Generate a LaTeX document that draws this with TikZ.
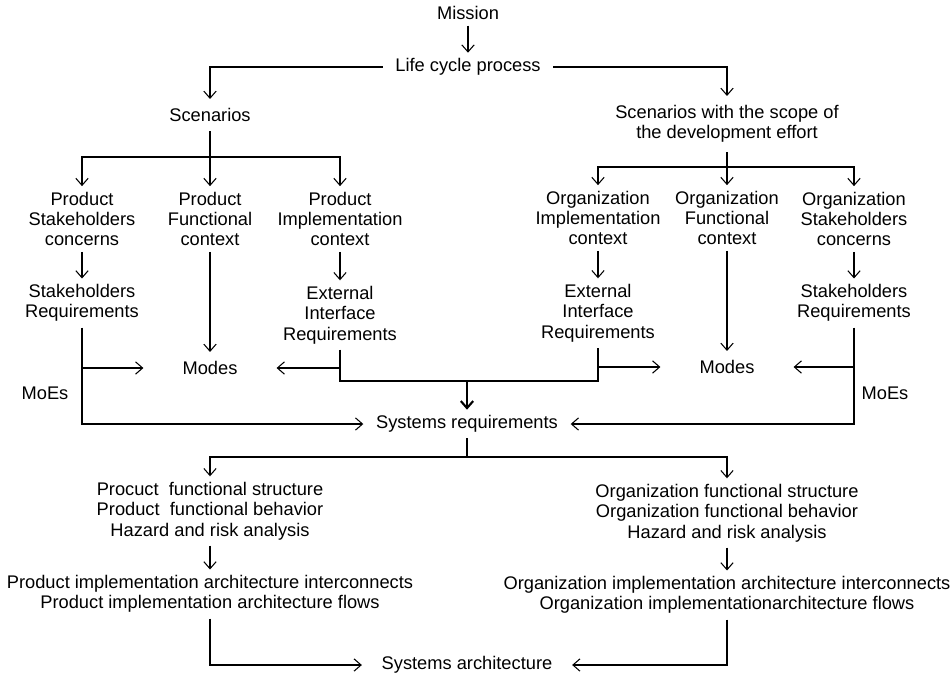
\documentclass[tikz,border=0pt]{standalone}
\usepackage{fontspec}
\setmainfont{Liberation Sans}
\usetikzlibrary{arrows.meta}
\begin{document}
\begin{tikzpicture}[x=0.02cm,y=-0.02cm,->,>={Straight Barb[length=4pt,width=7pt]},line width=0.6pt,
    every node/.style={align=center,inner sep=3pt,font=\fontsize{10.4}{11.6}\selectfont},
    modes/.style={inner xsep=22pt,inner ysep=5pt}]
\useasboundingbox (0,0) rectangle (951,677);
\node (mission) at (468,13) {Mission};
\node[inner xsep=7pt] (life) at (468,67) {Life cycle process};
\node[inner ysep=5pt] (scen) at (210,115) {Scenarios};
\node[inner ysep=5pt] (scope) at (727,124) {Scenarios with the scope of\\the development effort};
% product side
\node (psc) at (82,219) {Product\\Stakeholders\\concerns};
\node (pfc) at (210,219) {Product\\Functional\\context};
\node (pic) at (340,219) {Product\\Implementation\\context};
\node (psr) at (82,303) {Stakeholders\\Requirements};
\node[modes] (pmodes) at (210,368) {Modes};
\node (peir) at (340,315) {External\\Interface\\Requirements};
% organization side
\node (oic) at (598,218) {Organization\\Implementation\\context};
\node (ofc) at (727,218) {Organization\\Functional\\context};
\node (osc) at (854,219) {Organization\\Stakeholders\\concerns};
\node (oeir) at (598,313) {External\\Interface\\Requirements};
\node[modes] (omodes) at (727,367) {Modes};
\node (osr) at (854,303) {Stakeholders\\Requirements};
\node[inner xsep=7pt] (sysreq) at (467,424) {Systems requirements};
\node (moel) at (45,393) {MoEs};
\node (moer) at (885,393) {MoEs};
\node (pfb) at (210,511) {Procuct\ \ functional structure\\Product\ \ functional behavior\\Hazard and risk analysis};
\node (pia) at (210,594) {Product implementation architecture interconnects\\Product implementation architecture flows};
\node (ofb) at (727,513) {Organization functional structure\\Organization functional behavior\\Hazard and risk analysis};
\node (oia) at (727,595) {Organization implementation architecture interconnects\\Organization implementationarchitecture flows};
\node[inner xsep=11pt] (sysarch) at (467,665) {Systems architecture};
% junctions
\coordinate (sj) at (210,157);
\coordinate (oj) at (727,167);
\coordinate (pl) at (82,368);
\coordinate (pr) at (340,368);
\coordinate (ol) at (598,367);
\coordinate (orr) at (854,367);
\coordinate (mid) at (467,381);
\coordinate (bj) at (467,457);
% connectors
\path (mission) edge (life);
\draw (life.west) -| (scen);
\draw (life.east) -| (scope);
\draw[-] (scen) -- (sj);
\draw (sj) -| (psc);
\draw (sj) -- (pfc);
\draw (sj) -| (pic);
\draw[-] (scope) -- (oj);
\draw (oj) -| (oic);
\draw (oj) -- (ofc);
\draw (oj) -| (osc);
\path (psc) edge (psr) (pfc) edge (pmodes) (pic) edge (peir);
\path (oic) edge (oeir) (ofc) edge (omodes) (osc) edge (osr);
\draw (psr) |- (sysreq);
\draw (osr) |- (sysreq);
\draw (pl) -- (pmodes);
\draw (pr) -- (pmodes);
\draw (ol) -- (omodes);
\draw (orr) -- (omodes);
\draw[-] (peir) |- (mid) -| (oeir);
\draw[line width=1.2pt] (mid) -- (sysreq);
\draw[-] (sysreq) -- (bj);
\draw (bj) -| (pfb);
\draw (bj) -| (ofb);
\path (pfb) edge (pia) (ofb) edge (oia);
\draw (pia) |- (sysarch);
\draw (oia) |- (sysarch);
\end{tikzpicture}
\end{document}
